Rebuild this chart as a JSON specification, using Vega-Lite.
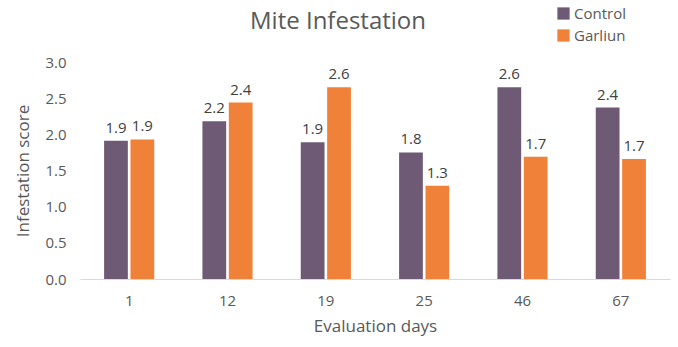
{
  "$schema": "https://vega.github.io/schema/vega-lite/v6.json",
  "autosize": "none",
  "width": 590,
  "height": 217,
  "padding": {"left": 80, "top": 62, "right": 8, "bottom": 68},
  "background": "white",
  "config": {
    "font": "Open Sans",
    "view": {"stroke": null}
  },
  "title": {
    "text": "Mite Infestation",
    "fontSize": 24,
    "fontWeight": "normal",
    "color": "#595959",
    "anchor": "middle",
    "frame": "group",
    "offset": -28,
    "dx": -37,
    "font": "Open Sans"
  },
  "data": {
    "values": [
      {"day": "1", "group": "Control", "score": 1.91, "label": "1.9"},
      {"day": "1", "group": "Garliun", "score": 1.93, "label": "1.9"},
      {"day": "12", "group": "Control", "score": 2.18, "label": "2.2"},
      {"day": "12", "group": "Garliun", "score": 2.44, "label": "2.4"},
      {"day": "19", "group": "Control", "score": 1.89, "label": "1.9"},
      {"day": "19", "group": "Garliun", "score": 2.65, "label": "2.6"},
      {"day": "25", "group": "Control", "score": 1.75, "label": "1.8"},
      {"day": "25", "group": "Garliun", "score": 1.29, "label": "1.3"},
      {"day": "46", "group": "Control", "score": 2.65, "label": "2.6"},
      {"day": "46", "group": "Garliun", "score": 1.69, "label": "1.7"},
      {"day": "67", "group": "Control", "score": 2.37, "label": "2.4"},
      {"day": "67", "group": "Garliun", "score": 1.66, "label": "1.7"}
    ]
  },
  "encoding": {
    "x": {
      "field": "day",
      "type": "nominal",
      "sort": null,
      "scale": {"paddingInner": 0.49, "paddingOuter": 0.245},
      "axis": {
        "title": "Evaluation days",
        "labelAngle": 0,
        "ticks": false,
        "domainColor": "#d9d9d9",
        "labelColor": "#595959",
        "labelFontSize": 15,
        "labelPadding": 14,
        "titleColor": "#595959",
        "titleFontSize": 17,
        "titleFontWeight": "normal",
        "titlePadding": 10
      }
    },
    "xOffset": {
      "field": "group",
      "type": "nominal",
      "scale": {"paddingInner": 0.1}
    },
    "y": {
      "field": "score",
      "type": "quantitative",
      "scale": {"domain": [0, 3]},
      "axis": {
        "title": "Infestation score",
        "values": [0, 0.5, 1, 1.5, 2, 2.5, 3],
        "format": ".1f",
        "grid": false,
        "domain": false,
        "ticks": false,
        "labelColor": "#595959",
        "labelFontSize": 15,
        "labelPadding": 14,
        "titleColor": "#595959",
        "titleFontSize": 17,
        "titleFontWeight": "normal",
        "titlePadding": 12
      }
    }
  },
  "layer": [
    {
      "mark": {"type": "bar"},
      "encoding": {
        "color": {
          "field": "group",
          "type": "nominal",
          "scale": {"domain": ["Control", "Garliun"], "range": ["#6e5a75", "#ef8139"]},
          "legend": {
            "title": null,
            "orient": "none",
            "legendX": 476,
            "legendY": -56,
            "symbolType": "square",
            "symbolSize": 150,
            "symbolStrokeWidth": 0,
            "labelFontSize": 15,
            "labelColor": "#595959",
            "labelOffset": 3,
            "rowPadding": 6
          }
        }
      }
    },
    {
      "mark": {"type": "text", "dy": -13, "fontSize": 15, "color": "#404040"},
      "encoding": {
        "text": {"field": "label"}
      }
    }
  ]
}
